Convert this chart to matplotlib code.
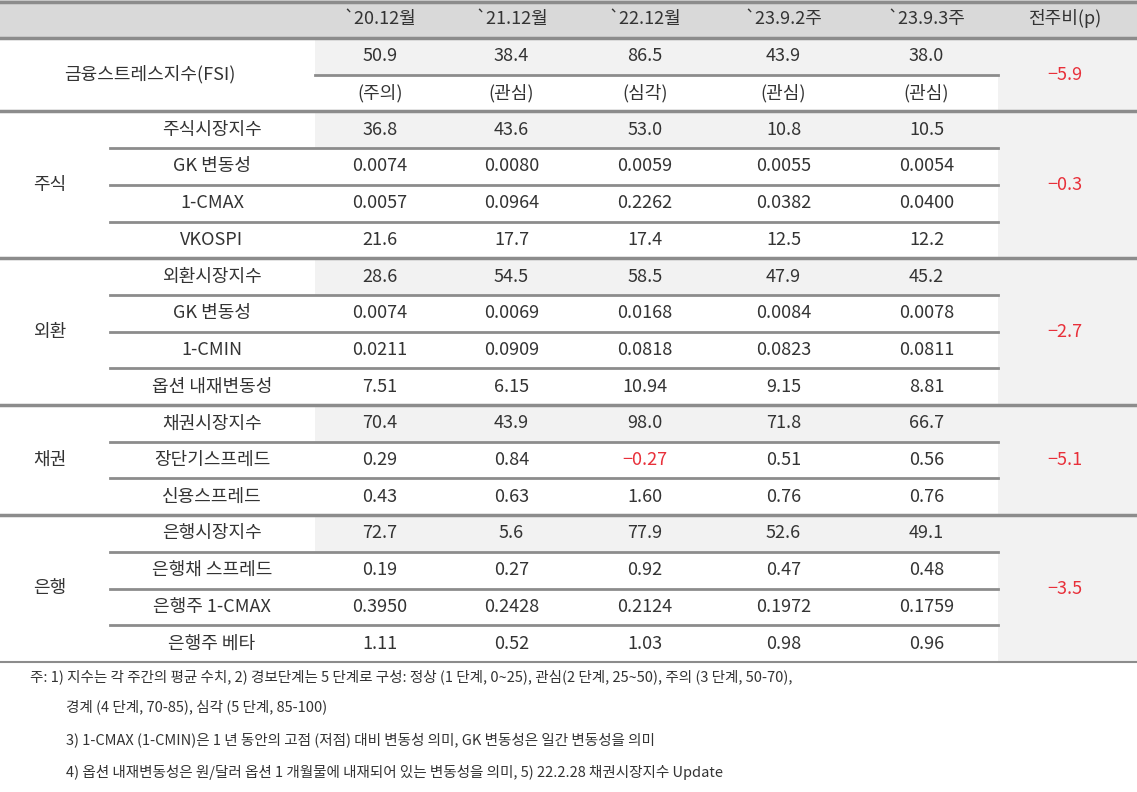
import matplotlib.pyplot as plt
from matplotlib.patches import Rectangle

plt.rcParams['font.family'] = ['Noto Sans CJK JP', 'Noto Sans CJK KR', 'Noto Sans CJK SC', 'DejaVu Sans']

headers = ['`20.12월', '`21.12월', '`22.12월', '`23.9.2주', '`23.9.3주', '전주비(p)']
fsi_values = ['50.9', '38.4', '86.5', '43.9', '38.0']
fsi_levels = ['(주의)', '(관심)', '(심각)', '(관심)', '(관심)']
groups = ['주식', '외환', '채권', '은행']
group_changes = ['-0.3', '-2.7', '-5.1', '-3.5']
fsi_change = '-5.9'
items = [
    ['주식시장지수', 'GK 변동성', '1-CMAX', 'VKOSPI'],
    ['외환시장지수', 'GK 변동성', '1-CMIN', '옵션 내재변동성'],
    ['채권시장지수', '장단기스프레드', '신용스프레드'],
    ['은행시장지수', '은행채 스프레드', '은행주 1-CMAX', '은행주 베타'],
]
values = [
    [['36.8', '43.6', '53.0', '10.8', '10.5'],
     ['0.0074', '0.0080', '0.0059', '0.0055', '0.0054'],
     ['0.0057', '0.0964', '0.2262', '0.0382', '0.0400'],
     ['21.6', '17.7', '17.4', '12.5', '12.2']],
    [['28.6', '54.5', '58.5', '47.9', '45.2'],
     ['0.0074', '0.0069', '0.0168', '0.0084', '0.0078'],
     ['0.0211', '0.0909', '0.0818', '0.0823', '0.0811'],
     ['7.51', '6.15', '10.94', '9.15', '8.81']],
    [['70.4', '43.9', '98.0', '71.8', '66.7'],
     ['0.29', '0.84', '-0.27', '0.51', '0.56'],
     ['0.43', '0.63', '1.60', '0.76', '0.76']],
    [['72.7', '5.6', '77.9', '52.6', '49.1'],
     ['0.19', '0.27', '0.92', '0.47', '0.48'],
     ['0.3950', '0.2428', '0.2124', '0.1972', '0.1759'],
     ['1.11', '0.52', '1.03', '0.98', '0.96']],
]
notes = [
    (30, '주: 1) 지수는 각 주간의 평균 수치, 2) 경보단계는 5 단계로 구성: 정상 (1 단계, 0~25), 관심(2 단계, 25~50), 주의 (3 단계, 50-70),'),
    (66, '경계 (4 단계, 70-85), 심각 (5 단계, 85-100)'),
    (66, '3) 1-CMAX (1-CMIN)은 1 년 동안의 고점 (저점) 대비 변동성 의미, GK 변동성은 일간 변동성을 의미'),
    (66, '4) 옵션 내재변동성은 원/달러 옵션 1 개월물에 내재되어 있는 변동성을 의미, 5) 22.2.28 채권시장지수 Update'),
]

W, H = 1137, 792
fig = plt.figure(figsize=(W / 100, H / 100), dpi=100)
ax = fig.add_axes([0, 0, 1, 1])
ax.set_xlim(0, W)
ax.set_ylim(H, 0)
ax.axis('off')

col_edges = [315, 445, 578, 712, 855, 998]
col_c = [(col_edges[i] + col_edges[i + 1]) / 2 for i in range(5)]
right_c = 1065
grp_c = 50
item_c = 212
FS = 13
RED = '#e8303a'
TXT = '#333333'
LINE = '#8c8c8c'
SHADE = '#f2f2f2'


def fmt(s):
    return s.replace('-', '\u2212')


# header
ax.add_patch(Rectangle((0, 0), W, 38, color='#d9d9d9', lw=0))
for i, h in enumerate(headers):
    x = col_c[i] if i < 5 else right_c
    ax.text(x, 19, h, ha='center', va='center', fontsize=FS, color=TXT)
ax.plot([0, W], [1.5, 1.5], color=LINE, lw=2.5)
ax.plot([0, W], [38, 38], color=LINE, lw=2.5)

row_h = 36.7
y = 38
# FSI block
ax.add_patch(Rectangle((col_edges[0], y), col_edges[-1] - col_edges[0], row_h, color=SHADE, lw=0))
ax.add_patch(Rectangle((998, y), W - 998, 2 * row_h + 1, color=SHADE, lw=0))
for i in range(5):
    ax.text(col_c[i], y + row_h / 2, fsi_values[i], ha='center', va='center', fontsize=FS, color=TXT)
    ax.text(col_c[i], y + 1.5 * row_h, fsi_levels[i], ha='center', va='center', fontsize=FS, color=TXT)
ax.text(150, y + row_h, '금융스트레스지수(FSI)', ha='center', va='center', fontsize=FS, color=TXT)
ax.text(right_c, y + row_h, fmt(fsi_change), ha='center', va='center', fontsize=FS, color=RED)
ax.plot([315, 998], [y + row_h, y + row_h], color=LINE, lw=2)
y += 2 * row_h
ax.plot([0, W], [y, y], color=LINE, lw=2.5)

for g, name in enumerate(groups):
    n = len(items[g])
    top = y
    ax.add_patch(Rectangle((998, top), W - 998, n * row_h, color=SHADE, lw=0))
    for r in range(n):
        yc = y + row_h / 2
        if r == 0:
            ax.add_patch(Rectangle((col_edges[0], y), col_edges[-1] - col_edges[0], row_h, color=SHADE, lw=0))
        ax.text(item_c, yc, items[g][r], ha='center', va='center', fontsize=FS, color=TXT)
        for i in range(5):
            v = values[g][r][i]
            ax.text(col_c[i], yc, fmt(v), ha='center', va='center', fontsize=FS,
                    color=RED if v.startswith('-') else TXT)
        y += row_h
        if r < n - 1:
            ax.plot([110, 998], [y, y], color=LINE, lw=2)
    ax.text(grp_c, (top + y) / 2, name, ha='center', va='center', fontsize=FS, color=TXT)
    ax.text(right_c, (top + y) / 2, fmt(group_changes[g]), ha='center', va='center', fontsize=FS, color=RED)
    ax.plot([0, W], [y, y], color=LINE, lw=2.5 if g < 3 else 1.5)

for k, (x, t) in enumerate(notes):
    ax.text(x, [677, 707, 740, 772][k], t, ha='left', va='center', fontsize=10.5, color=TXT)

fig.savefig('out.png', dpi=100, facecolor='white')
